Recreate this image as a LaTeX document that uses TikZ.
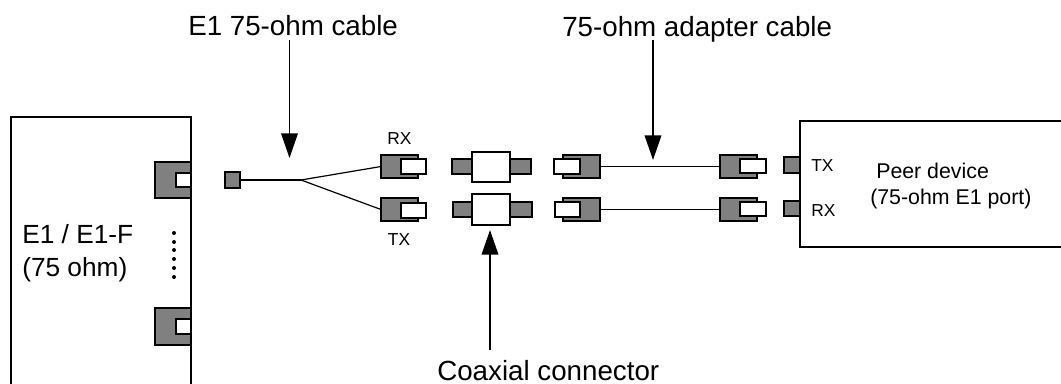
\documentclass[tikz,border=0pt]{standalone}
\usepackage{fontspec}
\setmainfont{Liberation Sans}
\usetikzlibrary{arrows.meta,calc}
\definecolor{portgray}{HTML}{808080}
\newcommand{\pxbox}[6]{% style, name, x1, y1, x2, y2
  \pgfmathsetmacro{\bw}{(#5-#3)*0.75}\pgfmathsetmacro{\bh}{(#6-#4)*0.75}
  \node[#1,minimum width=\bw pt,minimum height=\bh pt] (#2) at ({(#3+#5)/2},{(#4+#6)/2}) {};}
\tikzset{
  x=0.75pt,y=-0.75pt,
  graybox/.style={draw=black,fill=portgray,line width=1.1pt,inner sep=0pt,outer sep=0pt},
  whitebox/.style={draw=black,fill=white,line width=1.1pt,inner sep=0pt,outer sep=0pt},
  cable/.style={draw=black,line width=0.9pt},
  frame/.style={draw=black,line width=1pt},
  callout/.style={draw=black,line width=1.1pt,-{Triangle[length=18.5pt,width=12.5pt]}},
  biglabel/.style={font=\fontsize{20.8}{24}\selectfont,inner sep=0pt,anchor=base west},
  cardlabel/.style={font=\fontsize{19.7}{23}\selectfont,inner sep=0pt,anchor=base west},
  smalllabel/.style={font=\fontsize{13}{15}\selectfont,inner sep=0pt},
  peerlabel/.style={font=\fontsize{16}{19}\selectfont,inner sep=0pt,anchor=base west},
  dotmark/.style={circle,fill=black,inner sep=0pt,minimum size=3pt}
}
\begin{document}
\begin{tikzpicture}
\useasboundingbox (0,0) rectangle (1061,383);
% left card
\pxbox{graybox}{portA}{155}{162}{191}{198}
\pxbox{whitebox}{portAin}{176}{173}{191}{187}
\pxbox{graybox}{portB}{155}{308}{191}{345}
\pxbox{whitebox}{portBin}{176}{319}{191}{334}
\draw[frame] (11,384) -- (11,117) -- (191,117) -- (191,384);
\foreach \n/\yy in {1/233,2/242,3/250,4/259,5/268,6/277}
  \node[dotmark] (dot\n) at (174,\yy) {};
\node[cardlabel] (cardA) at (22,243) {E1 / E1-F};
\node[cardlabel] (cardB) at (22,276) {(75 ohm)};
% Y cable
\pxbox{graybox}{sq}{225}{172}{240}{188}
\coordinate (split) at (301,180);
\pxbox{graybox}{plugRX}{381}{155}{418}{178}
\pxbox{whitebox}{plugRXin}{401}{159}{426}{174}
\pxbox{graybox}{plugTX}{381}{198}{418}{221}
\pxbox{whitebox}{plugTXin}{401}{203}{426}{218}
\draw[cable] (sq.east) -- (split);
\draw[cable] (split) -- (plugRX.west);
\draw[cable] (split) -- (plugTX.west);
\node[smalllabel] (rxl) at (399.5,139) {RX};
\node[smalllabel] (txl) at (399,240) {TX};
% coaxial connectors
\pxbox{graybox}{coaxAs}{452}{159}{531}{174}
\pxbox{whitebox}{coaxA}{472}{152}{510}{182}
\pxbox{graybox}{coaxBs}{453}{202}{532}{217}
\pxbox{whitebox}{coaxB}{472}{194}{510}{225}
% adapter cable
\pxbox{graybox}{adLA}{563}{155}{600}{178}
\pxbox{whitebox}{adLAin}{554}{159}{580}{174}
\pxbox{graybox}{adLB}{563}{198}{600}{221}
\pxbox{whitebox}{adLBin}{555}{202}{580}{217}
\pxbox{graybox}{adRA}{720}{155}{757}{178}
\pxbox{whitebox}{adRAin}{740}{159}{766}{173}
\pxbox{graybox}{adRB}{720}{198}{757}{221}
\pxbox{whitebox}{adRBin}{740}{202}{766}{216}
\draw[cable] (adLA.east) -- (adRA.west);
\draw[cable] (adLB.east) -- (adRB.west);
% peer device
\pxbox{graybox}{peerA}{784}{157}{800}{173}
\pxbox{graybox}{peerB}{784}{201}{800}{216}
\draw[frame,fill=white] (1062,121) -- (800,121) -- (800,247) -- (1062,247);
\node[smalllabel,anchor=base west] (ptx) at (811,171) {TX};
\node[smalllabel,anchor=base west] (prx) at (811,216) {RX};
\node[peerlabel] (peerl) at (876,178) {Peer device};
\node[peerlabel] (peerm) at (870,204) {(75-ohm E1 port)};
% callouts
\node[biglabel] (lab1) at (188,35) {E1 75-ohm cable};
\node[biglabel] (lab2) at (562,36) {75-ohm adapter cable};
\node[biglabel] (lab3) at (437,380) {Coaxial connector};
\coordinate (a1s) at (289.5,40); \coordinate (a1e) at (289.5,158);
\coordinate (a2s) at (653,40); \coordinate (a2e) at (653,160);
\coordinate (a3s) at (490,350); \coordinate (a3e) at (490,230);
\draw[callout] (a1s) -- (a1e);
\draw[callout] (a2s) -- (a2e);
\draw[callout] (a3s) -- (a3e);
\end{tikzpicture}
\end{document}
